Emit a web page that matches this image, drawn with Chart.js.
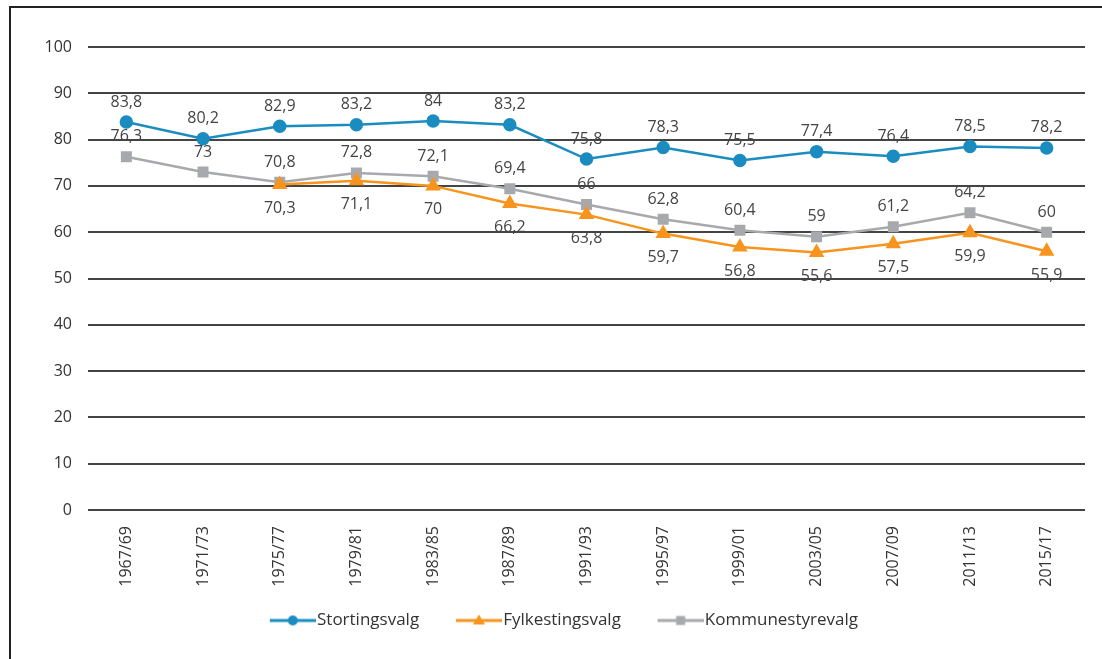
<!DOCTYPE html>
<html>
<head>
<meta charset="utf-8">
<script src="https://cdn.jsdelivr.net/npm/chart.js@4.4.1/dist/chart.umd.min.js"></script>
<style>
  body { margin: 0; background: #fff; }
  #wrap { position: relative; width: 1102px; height: 659px; overflow: hidden; }
  #frame { position: absolute; left: 9px; top: 6px; width: 1200px; height: 800px; border-top: 2px solid #222; border-left: 2px solid #222; }
  #box { position: absolute; left: 0; top: 0; width: 1102px; height: 659px; }
</style>
</head>
<body>
<div id="wrap">
  <div id="frame"></div>
  <div id="box"><canvas id="chart_valg"></canvas></div>
</div>
<script>
// valgdeltakelse
var periods = ['1967/69', '1971/73', '1975/77', '1979/81', '1983/85', '1987/89', '1991/93',
               '1995/97', '1999/01', '2003/05', '2007/09', '2011/13', '2015/17'];
var stortingsvalg = [83.8, 80.2, 82.9, 83.2, 84, 83.2, 75.8, 78.3, 75.5, 77.4, 76.4, 78.5, 78.2];
var fylkestingsvalg = [null, null, 70.3, 71.1, 70, 66.2, 63.8, 59.7, 56.8, 55.6, 57.5, 59.9, 55.9];
var kommunestyrevalg = [76.3, 73, 70.8, 72.8, 72.1, 69.4, 66, 62.8, 60.4, 59, 61.2, 64.2, 60];
var yTicks = [0, 10, 20, 30, 40, 50, 60, 70, 80, 90, 100];

var BLUE = '#1a8cc0', ORANGE = '#f7941d', GRAY = '#a7a9ac';
var FONT = '"Open Sans", "Noto Sans", sans-serif';

// line+marker icon for the legend, right aligned in a wider transparent canvas
function legendIcon(color, style) {
    var c = document.createElement('canvas');
    c.width = 80; c.height = 14;
    var g = c.getContext('2d');
    var x0 = 34;
    g.strokeStyle = color; g.fillStyle = color; g.lineWidth = 3;
    g.beginPath(); g.moveTo(x0, 7); g.lineTo(x0 + 46, 7); g.stroke();
    g.beginPath();
    var cx = x0 + 23;
    if (style === 'circle') { g.arc(cx, 7, 5, 0, Math.PI * 2); }
    else if (style === 'triangle') { g.moveTo(cx, 1); g.lineTo(cx + 6, 11); g.lineTo(cx - 6, 11); g.closePath(); }
    else { g.rect(cx - 4.5, 2.5, 9, 9); }
    g.fill();
    return c;
}

var valueLabels = {
    id: 'valueLabels',
    afterDatasetsDraw: function (chart) {
        var ctx = chart.ctx;
        ctx.save();
        ctx.font = '16px ' + FONT;
        ctx.fillStyle = '#444';
        ctx.textAlign = 'center';
        ctx.textBaseline = 'middle';
        chart.data.datasets.forEach(function (ds, i) {
            var meta = chart.getDatasetMeta(i);
            meta.data.forEach(function (pt, j) {
                var v = ds.data[j];
                if (v === null || v === undefined) return;
                var dy = ds.labelPos === 'below' ? 24 : -20;
                ctx.fillText(String(v).replace('.', ','), pt.x, pt.y + dy);
            });
        });
        ctx.restore();
    }
};

var ctx = document.getElementById('chart_valg');
var lineChart = new Chart(ctx, {
    type: 'line',
    data: {
        labels: periods,
        datasets: [
            { label: 'Stortingsvalg', data: stortingsvalg, borderColor: BLUE, backgroundColor: BLUE,
              pointStyle: 'circle', pointRadius: 5.5, borderWidth: 2.5, labelPos: 'above', icon: legendIcon(BLUE, 'circle') },
            { label: 'Fylkestingsvalg', data: fylkestingsvalg, borderColor: ORANGE, backgroundColor: ORANGE,
              pointStyle: 'triangle', pointRadius: 6.5, borderWidth: 2.5, labelPos: 'below', icon: legendIcon(ORANGE, 'triangle') },
            { label: 'Kommunestyrevalg', data: kommunestyrevalg, borderColor: GRAY, backgroundColor: GRAY,
              pointStyle: 'rect', pointRadius: 6, borderWidth: 2.5, labelPos: 'above', icon: legendIcon(GRAY, 'rect') }
        ]
    },
    options: {
        responsive: true,
        maintainAspectRatio: false,
        animation: false,
        layout: { padding: { top: 47, right: 17, bottom: 20, left: 16 } },
        plugins: {
            tooltip: { enabled: false },
            legend: {
                display: true,
                position: 'bottom',
                labels: {
                    usePointStyle: true,
                    pointStyleWidth: 65.5,
                    padding: 10,
                    color: '#333',
                    font: { family: FONT, size: 17 },
                    generateLabels: function (chart) {
                        return chart.data.datasets.map(function (ds, i) {
                            return { text: ds.label, pointStyle: ds.icon, datasetIndex: i,
                                     fillStyle: ds.borderColor, strokeStyle: ds.borderColor, lineWidth: 0, fontColor: '#333' };
                        });
                    }
                }
            }
        },
        scales: {
            x: {
                offset: true,
                grid: { display: false },
                border: { display: false },
                ticks: { minRotation: 90, maxRotation: 90, padding: 8, color: '#333', font: { family: FONT, size: 16 } },
                afterFit: function (s) { s.height = 92; }
            },
            y: {
                min: 0, max: 100,
                afterBuildTicks: function (s) { s.ticks = yTicks.map(function (v) { return { value: v }; }); },
                grid: { color: '#444', lineWidth: 2, drawTicks: false },
                border: { display: false },
                ticks: { padding: 16, color: '#333', font: { family: FONT, size: 16 } },
                afterFit: function (s) { s.width = 72; }
            }
        }
    },
    plugins: [valueLabels]
});
</script>
</body>
</html>
